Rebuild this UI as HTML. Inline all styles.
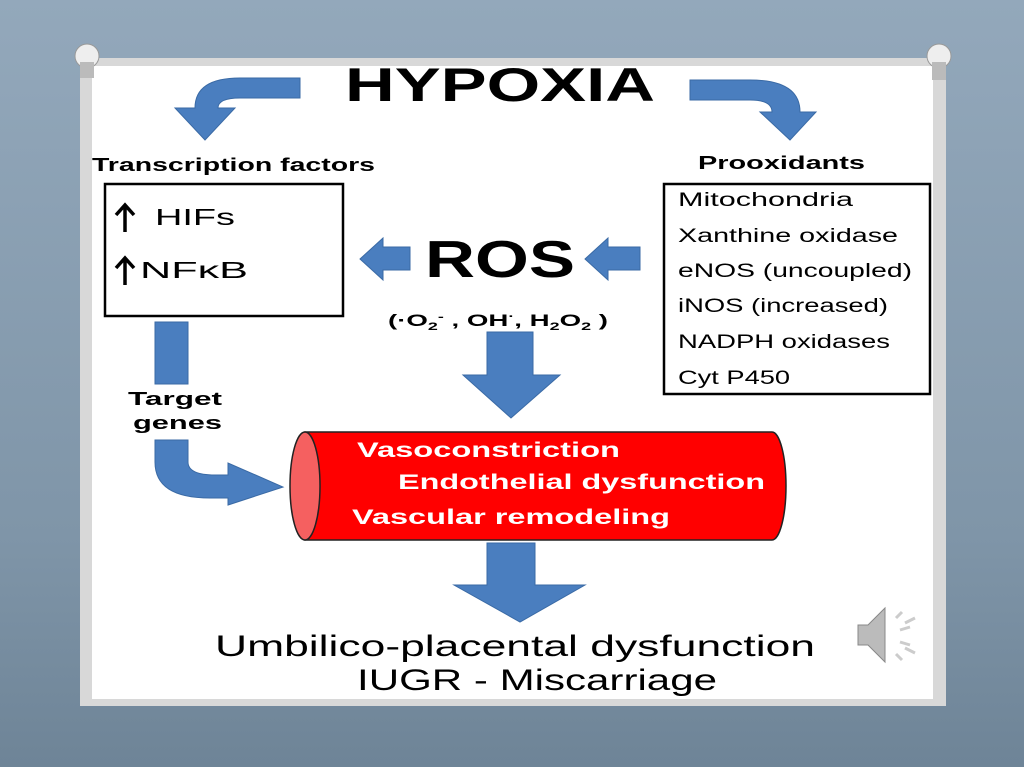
<!DOCTYPE html>
<html><head><style>
html,body{margin:0;padding:0;width:1024px;height:767px;overflow:hidden}
body{background:linear-gradient(#93a8bb,#7f95a8 70%,#6e8497);}
</style></head><body>
<svg width="1024" height="767" viewBox="0 0 1024 767" xmlns="http://www.w3.org/2000/svg" style="position:absolute;left:0;top:0">
<rect x="80" y="58" width="866" height="648" fill="#d8d8d8"/>
<rect x="92" y="66" width="841" height="633" fill="#fff"/>
<circle cx="87" cy="56" r="12" fill="#eee" stroke="#999"/><rect x="80" y="62" width="14" height="16" fill="#bbb"/>
<circle cx="939" cy="56" r="12" fill="#eee" stroke="#999"/><rect x="932" y="62" width="14" height="18" fill="#bbb"/>
<g font-family="Liberation Sans, sans-serif">
<text x="345" y="101" font-size="47" font-weight="bold" textLength="310" lengthAdjust="spacingAndGlyphs">HYPOXIA</text>
<g fill="#4a7ebf" stroke="#3a6aa5" stroke-width="1">
<path d="M300 78 L300 98 L240 98 Q218 98 218 108 L235 108 L205 140 L175 108 L195 108 Q195 78 240 78 Z"/>
<path d="M690 80 L690 100 L750 100 Q772 100 772 112 L760 112 L790 140 L816 112 L800 112 Q800 80 750 80 Z"/>
<path d="M410 247 L383 247 L383 238 L360 259 L383 280 L383 270 L410 270 Z"/>
<path d="M640 247 L608 247 L608 238 L585 259 L608 280 L608 270 L640 270 Z"/>
<path d="M487 332 L533 332 L533 375 L560 375 L511 418 L463 375 L487 375 Z"/>
<path d="M487 543 L535 543 L535 585 L585 585 L520 622 L454 585 L487 585 Z"/>
<rect x="155" y="322" width="33" height="62"/>
<path d="M155 440 L188 440 L188 462 Q188 475 215 475 L228 475 L228 463 L283 487 L228 505 L228 498 L210 498 Q155 498 155 462 Z"/>
</g>
<text x="92" y="171" font-size="18" font-weight="bold" textLength="283" lengthAdjust="spacingAndGlyphs">Transcription factors</text>
<rect x="105" y="184" width="238" height="132" fill="none" stroke="#000" stroke-width="2.5"/>
<g stroke="#000" stroke-width="3.5" fill="none">
<path d="M125 232 L125 206 M116 215 L125 205 L134 215"/>
<path d="M125 285 L125 259 M116 268 L125 258 L134 268"/>
</g>
<text x="155" y="225" font-size="23" textLength="80" lengthAdjust="spacingAndGlyphs">HIFs</text>
<text x="140" y="278" font-size="23" textLength="108" lengthAdjust="spacingAndGlyphs">NFκB</text>
<text x="698" y="169" font-size="18" font-weight="bold" textLength="167" lengthAdjust="spacingAndGlyphs">Prooxidants</text>
<rect x="664" y="184" width="266" height="210" fill="none" stroke="#000" stroke-width="2.5"/>
<g font-size="19">
<text x="678" y="206" textLength="175" lengthAdjust="spacingAndGlyphs">Mitochondria</text>
<text x="678" y="242" textLength="220" lengthAdjust="spacingAndGlyphs">Xanthine oxidase</text>
<text x="678" y="277" textLength="234" lengthAdjust="spacingAndGlyphs">eNOS (uncoupled)</text>
<text x="678" y="312" textLength="210" lengthAdjust="spacingAndGlyphs">iNOS (increased)</text>
<text x="678" y="348" textLength="212" lengthAdjust="spacingAndGlyphs">NADPH oxidases</text>
<text x="678" y="384" textLength="112" lengthAdjust="spacingAndGlyphs">Cyt P450</text>
</g>
<text x="425" y="277" font-size="52" font-weight="bold" textLength="150" lengthAdjust="spacingAndGlyphs">ROS</text>
<text x="388" y="326" font-size="17" font-weight="bold" textLength="220" lengthAdjust="spacingAndGlyphs">(·O<tspan font-size="11" dy="4">2</tspan><tspan font-size="11" dy="-10">-</tspan><tspan dy="6"> , OH</tspan><tspan font-size="11" dy="-6">·</tspan><tspan dy="6">, H</tspan><tspan font-size="11" dy="4">2</tspan><tspan dy="-4">O</tspan><tspan font-size="11" dy="4">2</tspan><tspan dy="-4"> )</tspan></text>
<text x="128" y="405" font-size="18" font-weight="bold" textLength="94" lengthAdjust="spacingAndGlyphs">Target</text>
<text x="133" y="429" font-size="18" font-weight="bold" textLength="89" lengthAdjust="spacingAndGlyphs">genes</text>
<path d="M305 432 L772 432 A14 54 0 0 1 772 540 L305 540 Z" fill="#f00" stroke="#222" stroke-width="1.5"/>
<ellipse cx="305" cy="486" rx="15" ry="54" fill="#f56060" stroke="#222" stroke-width="1.5"/>
<g fill="#fff" font-weight="bold" font-size="21">
<text x="357" y="457" textLength="263" lengthAdjust="spacingAndGlyphs">Vasoconstriction</text>
<text x="398" y="489" textLength="367" lengthAdjust="spacingAndGlyphs">Endothelial dysfunction</text>
<text x="352" y="524" textLength="318" lengthAdjust="spacingAndGlyphs">Vascular remodeling</text>
</g>
<text x="215" y="656" font-size="30" textLength="600" lengthAdjust="spacingAndGlyphs">Umbilico-placental  dysfunction</text>
<text x="357" y="690" font-size="30" textLength="360" lengthAdjust="spacingAndGlyphs">IUGR - Miscarriage</text>
</g>
<g fill="#bbb" stroke="#888">
<path d="M858 625 L868 625 L885 608 L885 662 L868 645 L858 645 Z"/>
</g>
<g stroke="#ccc" stroke-width="3" fill="none">
<path d="M896 618 L902 612 M900 630 L910 627 M900 642 L910 645 M896 654 L902 660 M905 623 L915 618 M905 648 L915 653"/>
</g>
</svg>
</body></html>
